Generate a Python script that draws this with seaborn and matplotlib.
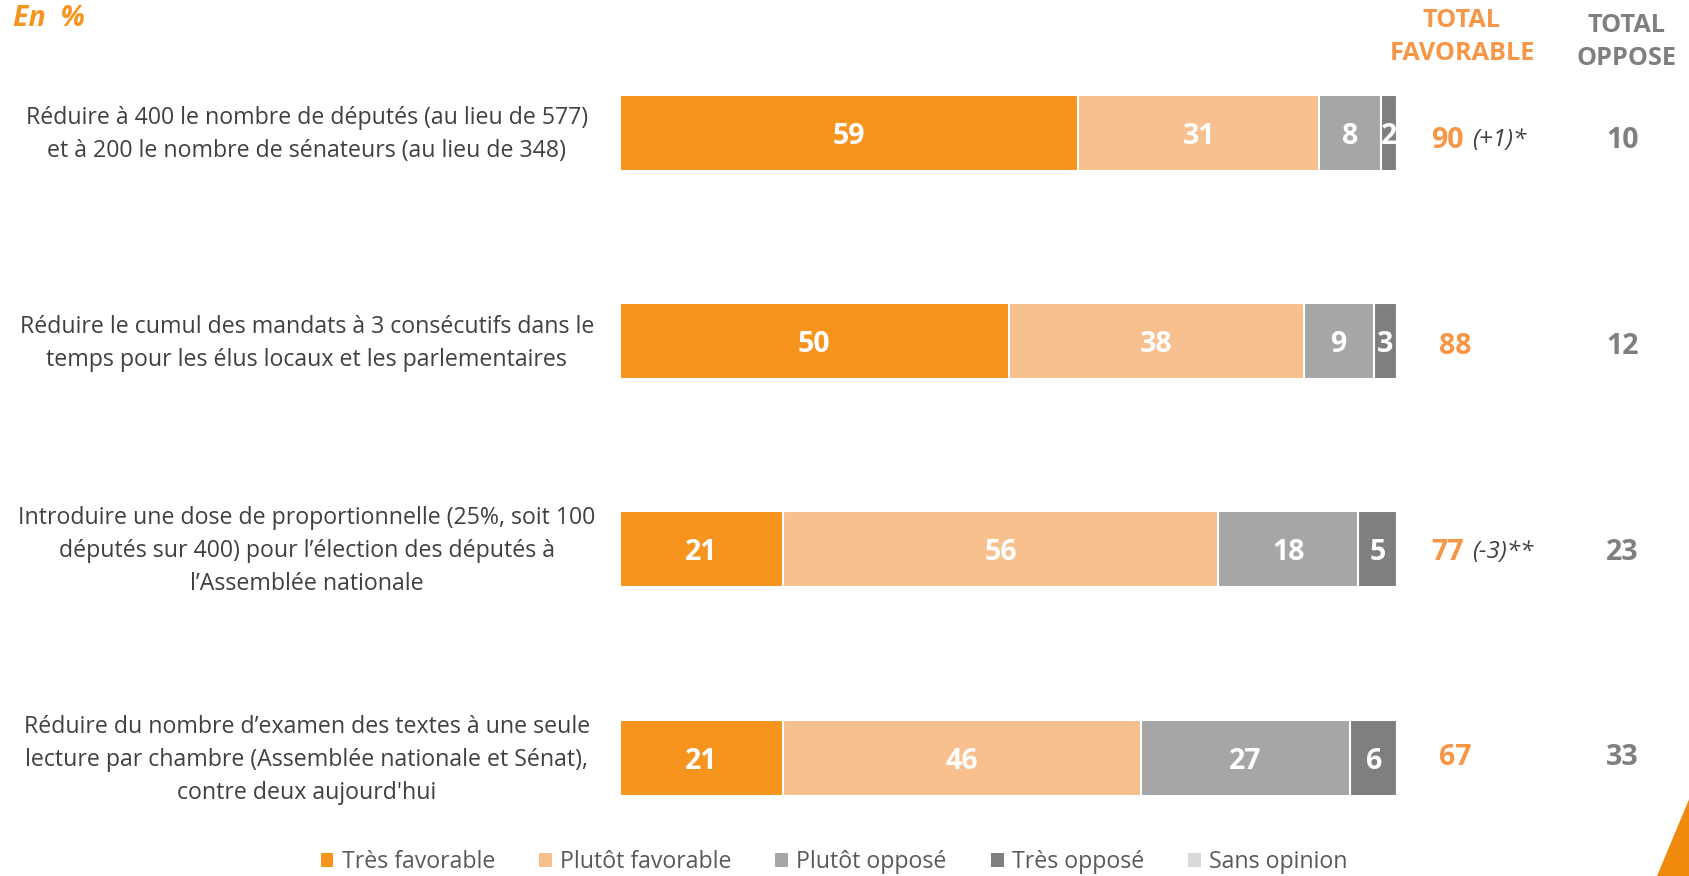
import matplotlib.pyplot as plt
import seaborn as sns
import numpy as np
from matplotlib.patches import Patch, Polygon

# donnees
items = [
    "Réduire à 400 le nombre de députés (au lieu de 577)\net à 200 le nombre de sénateurs (au lieu de 348)",
    "Réduire le cumul des mandats à 3 consécutifs dans le\ntemps pour les élus locaux et les parlementaires",
    "Introduire une dose de proportionnelle (25%, soit 100\ndéputés sur 400) pour l’élection des députés à\nl’Assemblée nationale",
    "Réduire du nombre d’examen des textes à une seule\nlecture par chambre (Assemblée nationale et Sénat),\ncontre deux aujourd'hui",
]
cles = ["q1", "q2", "q3", "q4"]
categories = ["Très favorable", "Plutôt favorable", "Plutôt opposé", "Très opposé", "Sans opinion"]
tres_favorable = [59, 50, 21, 21]
plutot_favorable = [31, 38, 56, 46]
plutot_oppose = [8, 9, 18, 27]
tres_oppose = [2, 3, 5, 6]
sans_opinion = [0, 0, 0, 0]
total_favorable = [90, 88, 77, 67]
evolution = ["(+1)*", "", "(-3)**", ""]
total_oppose = [10, 12, 23, 33]

couleurs = ["#F7941D", "#F9C08F", "#A6A6A6", "#7F7F7F", "#D9D9D9"]
orange_txt = "#F79646"
gris_txt = "#7F7F7F"
texte = "#404040"

series = [tres_favorable, plutot_favorable, plutot_oppose, tres_oppose, sans_opinion]

sns.set_style("white")
plt.rcParams["font.family"] = ["Open Sans", "DejaVu Sans"]

fig = plt.figure(figsize=(16.9, 8.76), dpi=100)
ax = fig.add_axes([620 / 1690, 1 - 861.9 / 876, 777 / 1690, 833.5 / 876])

# barres empilees : on dessine les cumuls du plus large au plus etroit
cumuls = np.cumsum(np.array(series), axis=0)
for i in range(len(series) - 1, -1, -1):
    sns.barplot(x=cumuls[i], y=cles, color=couleurs[i], saturation=1, orient="y",
                width=0.365, errorbar=None, edgecolor="white", linewidth=1.5, ax=ax)

# valeurs dans les barres
for j in range(len(cles)):
    debut = 0
    for i, s in enumerate(series):
        v = s[j]
        if v > 0:
            ax.text(debut + v / 2, j, str(v), ha="center", va="center_baseline", color="white",
                    fontsize=20.5, fontweight="bold", clip_on=False)
        debut += v

ax.set_xlim(0, 100)
ax.set_ylim(3.5, -0.5)
ax.axis("off")

# libelles
for j, lab in enumerate(items):
    ax.text(-40.3, j + 0.01, lab, ha="center", va="center", fontsize=16.7, color=texte,
            linespacing=1.5, clip_on=False)

# totaux (petit decalage vertical comme sur l'original)
decalage = [0.02, 0.01, 0.0, -0.02]
for j in range(len(cles)):
    yy = j + decalage[j]
    if evolution[j]:
        ax.text(108.6, yy, str(total_favorable[j]), ha="right", va="center_baseline",
                fontsize=20.5, fontweight="bold", color=orange_txt, clip_on=False)
        ax.text(109.6, yy, evolution[j], ha="left", va="center_baseline", fontsize=17.5,
                style="italic", color=texte, clip_on=False)
    else:
        ax.text(107.5, yy, str(total_favorable[j]), ha="center", va="center_baseline",
                fontsize=20.5, fontweight="bold", color=orange_txt, clip_on=False)
    ax.text(129, yy, str(total_oppose[j]), ha="center", va="center_baseline", fontsize=20.5,
            fontweight="bold", color=gris_txt, clip_on=False)

fig.text(1462 / 1690, 1 - 37 / 876, "TOTAL\nFAVORABLE", ha="center", va="center",
         fontsize=18.2, fontweight="bold", color=orange_txt, linespacing=1.45)
fig.text(1627 / 1690, 1 - 42 / 876, "TOTAL\nOPPOSE", ha="center", va="center",
         fontsize=18.2, fontweight="bold", color=gris_txt, linespacing=1.45)
fig.text(13 / 1690, 1 - 18 / 876, "En  %", ha="left", va="center", fontsize=20.5,
         fontweight="bold", style="italic", color="#F7941D")

# legende
handles = [Patch(facecolor=c, edgecolor="none") for c in couleurs]
fig.legend(handles, categories, loc="center", bbox_to_anchor=(834 / 1690, 1 - 862 / 876),
           ncol=5, frameon=False, fontsize=16.7, handlelength=0.55, handleheight=0.55,
           handletextpad=0.35, columnspacing=1.9, labelcolor="#595959")

# petit triangle decoratif
fig.patches.append(Polygon([[1657 / 1690, 0], [1, 0], [1, 1 - 797 / 876]], closed=True,
                           transform=fig.transFigure, facecolor="#F08A0C", edgecolor="none"))

fig.savefig("out.png", dpi=100)
